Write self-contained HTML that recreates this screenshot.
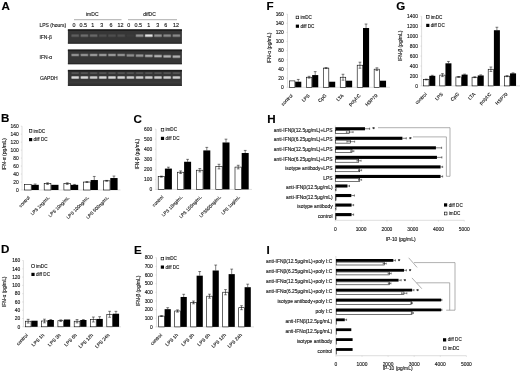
<!DOCTYPE html><html><head><meta charset="utf-8"><style>html,body{margin:0;padding:0;background:#fff;width:520px;height:373px;overflow:hidden}svg{display:block}text{font-family:"Liberation Sans",Arial,sans-serif;stroke:#222;stroke-width:0.14px;paint-order:stroke}</style></head><body>
<svg width="520" height="373" viewBox="0 0 520 373">
<defs><filter id="bl" x="-5%" y="-50%" width="110%" height="200%"><feGaussianBlur stdDeviation="0.55"/></filter><filter id="gb" x="-2%" y="-2%" width="104%" height="104%"><feGaussianBlur stdDeviation="0.5"/></filter><filter id="bl2" x="-5%" y="-50%" width="110%" height="200%"><feGaussianBlur stdDeviation="0.3"/></filter></defs>
<rect width="520" height="373" fill="#fff"/>
<g>
<text x="0" y="0" font-size="10.3" font-weight="bold" fill="#000" transform="translate(1.50 9.60) scale(1.13 1)">A</text>
<text x="86.00" y="16.30" font-size="5.0" text-anchor="start" font-weight="normal" fill="#1a1a1a">imDC</text>
<text x="143.30" y="16.30" font-size="5.0" text-anchor="start" font-weight="normal" fill="#1a1a1a">difDC</text>
<line x1="74.00" y1="19.70" x2="121.50" y2="19.70" stroke="#777" stroke-width="0.6"/>
<line x1="128.00" y1="19.70" x2="177.00" y2="19.70" stroke="#777" stroke-width="0.6"/>
<text x="39.40" y="26.50" font-size="5.0" text-anchor="start" font-weight="normal" fill="#1a1a1a">LPS (hours)</text>
<text x="74.10" y="26.80" font-size="5.4" text-anchor="middle" font-weight="normal" fill="#1a1a1a">0</text>
<text x="83.20" y="26.80" font-size="5.4" text-anchor="middle" font-weight="normal" fill="#1a1a1a">0.5</text>
<text x="92.70" y="26.80" font-size="5.4" text-anchor="middle" font-weight="normal" fill="#1a1a1a">1</text>
<text x="101.70" y="26.80" font-size="5.4" text-anchor="middle" font-weight="normal" fill="#1a1a1a">3</text>
<text x="111.00" y="26.80" font-size="5.4" text-anchor="middle" font-weight="normal" fill="#1a1a1a">6</text>
<text x="120.60" y="26.80" font-size="5.4" text-anchor="middle" font-weight="normal" fill="#1a1a1a">12</text>
<text x="128.70" y="26.80" font-size="5.4" text-anchor="middle" font-weight="normal" fill="#1a1a1a">0</text>
<text x="138.20" y="26.80" font-size="5.4" text-anchor="middle" font-weight="normal" fill="#1a1a1a">0.5</text>
<text x="148.70" y="26.80" font-size="5.4" text-anchor="middle" font-weight="normal" fill="#1a1a1a">1</text>
<text x="157.70" y="26.80" font-size="5.4" text-anchor="middle" font-weight="normal" fill="#1a1a1a">3</text>
<text x="165.80" y="26.80" font-size="5.4" text-anchor="middle" font-weight="normal" fill="#1a1a1a">6</text>
<text x="175.90" y="26.80" font-size="5.4" text-anchor="middle" font-weight="normal" fill="#1a1a1a">12</text>
<text x="39.40" y="39.20" font-size="5.0" text-anchor="start" font-weight="normal" fill="#1a1a1a">IFN-β</text>
<text x="39.60" y="58.80" font-size="5.0" text-anchor="start" font-weight="normal" fill="#1a1a1a">IFN-α</text>
<text x="39.90" y="80.30" font-size="5.0" text-anchor="start" font-weight="normal" fill="#1a1a1a">GAPDH</text>
<rect x="67.90" y="29.40" width="114.00" height="14.20" fill="#363636" stroke="none" stroke-width="0.5"/>
<rect x="67.90" y="29.40" width="114.00" height="1.60" fill="#1e1e1e" stroke="none" stroke-width="0.5"/>
<rect x="67.90" y="42.60" width="114.00" height="1.00" fill="#262626" stroke="none" stroke-width="0.5"/>
<rect x="67.90" y="49.60" width="114.00" height="14.60" fill="#363636" stroke="none" stroke-width="0.5"/>
<rect x="67.90" y="49.60" width="114.00" height="1.60" fill="#1e1e1e" stroke="none" stroke-width="0.5"/>
<rect x="67.90" y="63.20" width="114.00" height="1.00" fill="#262626" stroke="none" stroke-width="0.5"/>
<rect x="67.90" y="69.90" width="114.00" height="15.90" fill="#363636" stroke="none" stroke-width="0.5"/>
<rect x="67.90" y="69.90" width="114.00" height="1.60" fill="#1e1e1e" stroke="none" stroke-width="0.5"/>
<rect x="67.90" y="84.80" width="114.00" height="1.00" fill="#262626" stroke="none" stroke-width="0.5"/>
<rect x="71.10" y="34.10" width="8.20" height="3.10" fill="rgb(72,72,72)" stroke="none" stroke-width="0.5" rx="0.8"/>
<rect x="71.70" y="34.70" width="7.00" height="1.90" fill="rgb(94,94,94)" stroke="none" stroke-width="0.5" rx="0.4"/>
<rect x="71.10" y="53.40" width="8.20" height="3.10" fill="rgb(93,93,93)" stroke="none" stroke-width="0.5" rx="0.8"/>
<rect x="71.70" y="54.00" width="7.00" height="1.90" fill="rgb(142,142,142)" stroke="none" stroke-width="0.5" rx="0.4"/>
<rect x="71.10" y="75.90" width="8.20" height="3.10" fill="rgb(127,127,127)" stroke="none" stroke-width="0.5" rx="0.8"/>
<rect x="71.70" y="76.50" width="7.00" height="1.90" fill="rgb(216,216,216)" stroke="none" stroke-width="0.5" rx="0.4"/>
<rect x="71.20" y="72.10" width="8.00" height="2.00" fill="rgb(72,72,72)" stroke="none" stroke-width="0.5" rx="0.8"/>
<rect x="71.80" y="72.70" width="6.80" height="0.80" fill="rgb(94,94,94)" stroke="none" stroke-width="0.5" rx="0.4"/>
<rect x="80.30" y="34.10" width="8.20" height="3.10" fill="rgb(79,79,79)" stroke="none" stroke-width="0.5" rx="0.8"/>
<rect x="80.90" y="34.70" width="7.00" height="1.90" fill="rgb(109,109,109)" stroke="none" stroke-width="0.5" rx="0.4"/>
<rect x="80.30" y="53.40" width="8.20" height="3.10" fill="rgb(93,93,93)" stroke="none" stroke-width="0.5" rx="0.8"/>
<rect x="80.90" y="54.00" width="7.00" height="1.90" fill="rgb(142,142,142)" stroke="none" stroke-width="0.5" rx="0.4"/>
<rect x="80.30" y="75.90" width="8.20" height="3.10" fill="rgb(127,127,127)" stroke="none" stroke-width="0.5" rx="0.8"/>
<rect x="80.90" y="76.50" width="7.00" height="1.90" fill="rgb(216,216,216)" stroke="none" stroke-width="0.5" rx="0.4"/>
<rect x="80.40" y="72.10" width="8.00" height="2.00" fill="rgb(72,72,72)" stroke="none" stroke-width="0.5" rx="0.8"/>
<rect x="81.00" y="72.70" width="6.80" height="0.80" fill="rgb(94,94,94)" stroke="none" stroke-width="0.5" rx="0.4"/>
<rect x="89.50" y="34.10" width="8.20" height="3.10" fill="rgb(76,76,76)" stroke="none" stroke-width="0.5" rx="0.8"/>
<rect x="90.10" y="34.70" width="7.00" height="1.90" fill="rgb(104,104,104)" stroke="none" stroke-width="0.5" rx="0.4"/>
<rect x="89.50" y="53.40" width="8.20" height="3.10" fill="rgb(97,97,97)" stroke="none" stroke-width="0.5" rx="0.8"/>
<rect x="90.10" y="54.00" width="7.00" height="1.90" fill="rgb(150,150,150)" stroke="none" stroke-width="0.5" rx="0.4"/>
<rect x="89.50" y="75.90" width="8.20" height="3.10" fill="rgb(122,122,122)" stroke="none" stroke-width="0.5" rx="0.8"/>
<rect x="90.10" y="76.50" width="7.00" height="1.90" fill="rgb(206,206,206)" stroke="none" stroke-width="0.5" rx="0.4"/>
<rect x="89.60" y="72.10" width="8.00" height="2.00" fill="rgb(72,72,72)" stroke="none" stroke-width="0.5" rx="0.8"/>
<rect x="90.20" y="72.70" width="6.80" height="0.80" fill="rgb(94,94,94)" stroke="none" stroke-width="0.5" rx="0.4"/>
<rect x="98.70" y="34.10" width="8.20" height="3.10" fill="rgb(64,64,64)" stroke="none" stroke-width="0.5" rx="0.8"/>
<rect x="99.30" y="34.70" width="7.00" height="1.90" fill="rgb(78,78,78)" stroke="none" stroke-width="0.5" rx="0.4"/>
<rect x="98.70" y="53.40" width="8.20" height="3.10" fill="rgb(97,97,97)" stroke="none" stroke-width="0.5" rx="0.8"/>
<rect x="99.30" y="54.00" width="7.00" height="1.90" fill="rgb(150,150,150)" stroke="none" stroke-width="0.5" rx="0.4"/>
<rect x="98.70" y="75.90" width="8.20" height="3.10" fill="rgb(127,127,127)" stroke="none" stroke-width="0.5" rx="0.8"/>
<rect x="99.30" y="76.50" width="7.00" height="1.90" fill="rgb(216,216,216)" stroke="none" stroke-width="0.5" rx="0.4"/>
<rect x="98.80" y="72.10" width="8.00" height="2.00" fill="rgb(72,72,72)" stroke="none" stroke-width="0.5" rx="0.8"/>
<rect x="99.40" y="72.70" width="6.80" height="0.80" fill="rgb(94,94,94)" stroke="none" stroke-width="0.5" rx="0.4"/>
<rect x="107.90" y="34.10" width="8.20" height="3.10" fill="rgb(64,64,64)" stroke="none" stroke-width="0.5" rx="0.8"/>
<rect x="108.50" y="34.70" width="7.00" height="1.90" fill="rgb(78,78,78)" stroke="none" stroke-width="0.5" rx="0.4"/>
<rect x="107.90" y="53.40" width="8.20" height="3.10" fill="rgb(97,97,97)" stroke="none" stroke-width="0.5" rx="0.8"/>
<rect x="108.50" y="54.00" width="7.00" height="1.90" fill="rgb(150,150,150)" stroke="none" stroke-width="0.5" rx="0.4"/>
<rect x="107.90" y="75.90" width="8.20" height="3.10" fill="rgb(127,127,127)" stroke="none" stroke-width="0.5" rx="0.8"/>
<rect x="108.50" y="76.50" width="7.00" height="1.90" fill="rgb(216,216,216)" stroke="none" stroke-width="0.5" rx="0.4"/>
<rect x="108.00" y="72.10" width="8.00" height="2.00" fill="rgb(72,72,72)" stroke="none" stroke-width="0.5" rx="0.8"/>
<rect x="108.60" y="72.70" width="6.80" height="0.80" fill="rgb(94,94,94)" stroke="none" stroke-width="0.5" rx="0.4"/>
<rect x="117.10" y="34.10" width="8.20" height="3.10" fill="rgb(64,64,64)" stroke="none" stroke-width="0.5" rx="0.8"/>
<rect x="117.70" y="34.70" width="7.00" height="1.90" fill="rgb(78,78,78)" stroke="none" stroke-width="0.5" rx="0.4"/>
<rect x="117.10" y="53.40" width="8.20" height="3.10" fill="rgb(93,93,93)" stroke="none" stroke-width="0.5" rx="0.8"/>
<rect x="117.70" y="54.00" width="7.00" height="1.90" fill="rgb(142,142,142)" stroke="none" stroke-width="0.5" rx="0.4"/>
<rect x="117.10" y="75.90" width="8.20" height="3.10" fill="rgb(127,127,127)" stroke="none" stroke-width="0.5" rx="0.8"/>
<rect x="117.70" y="76.50" width="7.00" height="1.90" fill="rgb(216,216,216)" stroke="none" stroke-width="0.5" rx="0.4"/>
<rect x="117.20" y="72.10" width="8.00" height="2.00" fill="rgb(72,72,72)" stroke="none" stroke-width="0.5" rx="0.8"/>
<rect x="117.80" y="72.70" width="6.80" height="0.80" fill="rgb(94,94,94)" stroke="none" stroke-width="0.5" rx="0.4"/>
<rect x="126.30" y="34.10" width="8.20" height="3.10" fill="rgb(56,56,56)" stroke="none" stroke-width="0.5" rx="0.8"/>
<rect x="126.90" y="34.70" width="7.00" height="1.90" fill="rgb(59,59,59)" stroke="none" stroke-width="0.5" rx="0.4"/>
<rect x="126.30" y="53.80" width="8.20" height="3.10" fill="rgb(93,93,93)" stroke="none" stroke-width="0.5" rx="0.8"/>
<rect x="126.90" y="54.40" width="7.00" height="1.90" fill="rgb(142,142,142)" stroke="none" stroke-width="0.5" rx="0.4"/>
<rect x="126.30" y="75.90" width="8.20" height="3.10" fill="rgb(122,122,122)" stroke="none" stroke-width="0.5" rx="0.8"/>
<rect x="126.90" y="76.50" width="7.00" height="1.90" fill="rgb(206,206,206)" stroke="none" stroke-width="0.5" rx="0.4"/>
<rect x="126.40" y="72.10" width="8.00" height="2.00" fill="rgb(72,72,72)" stroke="none" stroke-width="0.5" rx="0.8"/>
<rect x="127.00" y="72.70" width="6.80" height="0.80" fill="rgb(94,94,94)" stroke="none" stroke-width="0.5" rx="0.4"/>
<rect x="135.50" y="34.10" width="8.20" height="3.10" fill="rgb(95,95,95)" stroke="none" stroke-width="0.5" rx="0.8"/>
<rect x="136.10" y="34.70" width="7.00" height="1.90" fill="rgb(147,147,147)" stroke="none" stroke-width="0.5" rx="0.4"/>
<rect x="135.50" y="54.05" width="8.20" height="3.10" fill="rgb(97,97,97)" stroke="none" stroke-width="0.5" rx="0.8"/>
<rect x="136.10" y="54.65" width="7.00" height="1.90" fill="rgb(150,150,150)" stroke="none" stroke-width="0.5" rx="0.4"/>
<rect x="135.50" y="75.90" width="8.20" height="3.10" fill="rgb(122,122,122)" stroke="none" stroke-width="0.5" rx="0.8"/>
<rect x="136.10" y="76.50" width="7.00" height="1.90" fill="rgb(206,206,206)" stroke="none" stroke-width="0.5" rx="0.4"/>
<rect x="135.60" y="72.10" width="8.00" height="2.00" fill="rgb(72,72,72)" stroke="none" stroke-width="0.5" rx="0.8"/>
<rect x="136.20" y="72.70" width="6.80" height="0.80" fill="rgb(94,94,94)" stroke="none" stroke-width="0.5" rx="0.4"/>
<rect x="144.70" y="34.10" width="8.20" height="3.10" fill="rgb(133,133,133)" stroke="none" stroke-width="0.5" rx="0.8"/>
<rect x="145.30" y="34.70" width="7.00" height="1.90" fill="rgb(230,230,230)" stroke="none" stroke-width="0.5" rx="0.4"/>
<rect x="144.70" y="54.30" width="8.20" height="3.10" fill="rgb(105,105,105)" stroke="none" stroke-width="0.5" rx="0.8"/>
<rect x="145.30" y="54.90" width="7.00" height="1.90" fill="rgb(168,168,168)" stroke="none" stroke-width="0.5" rx="0.4"/>
<rect x="144.70" y="75.90" width="8.20" height="3.10" fill="rgb(122,122,122)" stroke="none" stroke-width="0.5" rx="0.8"/>
<rect x="145.30" y="76.50" width="7.00" height="1.90" fill="rgb(206,206,206)" stroke="none" stroke-width="0.5" rx="0.4"/>
<rect x="144.80" y="72.10" width="8.00" height="2.00" fill="rgb(72,72,72)" stroke="none" stroke-width="0.5" rx="0.8"/>
<rect x="145.40" y="72.70" width="6.80" height="0.80" fill="rgb(94,94,94)" stroke="none" stroke-width="0.5" rx="0.4"/>
<rect x="153.90" y="34.10" width="8.20" height="3.10" fill="rgb(95,95,95)" stroke="none" stroke-width="0.5" rx="0.8"/>
<rect x="154.50" y="34.70" width="7.00" height="1.90" fill="rgb(147,147,147)" stroke="none" stroke-width="0.5" rx="0.4"/>
<rect x="153.90" y="54.55" width="8.20" height="3.10" fill="rgb(109,109,109)" stroke="none" stroke-width="0.5" rx="0.8"/>
<rect x="154.50" y="55.15" width="7.00" height="1.90" fill="rgb(177,177,177)" stroke="none" stroke-width="0.5" rx="0.4"/>
<rect x="153.90" y="75.90" width="8.20" height="3.10" fill="rgb(122,122,122)" stroke="none" stroke-width="0.5" rx="0.8"/>
<rect x="154.50" y="76.50" width="7.00" height="1.90" fill="rgb(206,206,206)" stroke="none" stroke-width="0.5" rx="0.4"/>
<rect x="154.00" y="72.10" width="8.00" height="2.00" fill="rgb(72,72,72)" stroke="none" stroke-width="0.5" rx="0.8"/>
<rect x="154.60" y="72.70" width="6.80" height="0.80" fill="rgb(94,94,94)" stroke="none" stroke-width="0.5" rx="0.4"/>
<rect x="163.10" y="34.10" width="8.20" height="3.10" fill="rgb(91,91,91)" stroke="none" stroke-width="0.5" rx="0.8"/>
<rect x="163.70" y="34.70" width="7.00" height="1.90" fill="rgb(137,137,137)" stroke="none" stroke-width="0.5" rx="0.4"/>
<rect x="163.10" y="54.80" width="8.20" height="3.10" fill="rgb(109,109,109)" stroke="none" stroke-width="0.5" rx="0.8"/>
<rect x="163.70" y="55.40" width="7.00" height="1.90" fill="rgb(177,177,177)" stroke="none" stroke-width="0.5" rx="0.4"/>
<rect x="163.10" y="75.90" width="8.20" height="3.10" fill="rgb(122,122,122)" stroke="none" stroke-width="0.5" rx="0.8"/>
<rect x="163.70" y="76.50" width="7.00" height="1.90" fill="rgb(206,206,206)" stroke="none" stroke-width="0.5" rx="0.4"/>
<rect x="163.20" y="72.10" width="8.00" height="2.00" fill="rgb(72,72,72)" stroke="none" stroke-width="0.5" rx="0.8"/>
<rect x="163.80" y="72.70" width="6.80" height="0.80" fill="rgb(94,94,94)" stroke="none" stroke-width="0.5" rx="0.4"/>
<rect x="172.30" y="34.10" width="8.20" height="3.10" fill="rgb(91,91,91)" stroke="none" stroke-width="0.5" rx="0.8"/>
<rect x="172.90" y="34.70" width="7.00" height="1.90" fill="rgb(137,137,137)" stroke="none" stroke-width="0.5" rx="0.4"/>
<rect x="172.30" y="55.05" width="8.20" height="3.10" fill="rgb(109,109,109)" stroke="none" stroke-width="0.5" rx="0.8"/>
<rect x="172.90" y="55.65" width="7.00" height="1.90" fill="rgb(177,177,177)" stroke="none" stroke-width="0.5" rx="0.4"/>
<rect x="172.30" y="75.90" width="8.20" height="3.10" fill="rgb(122,122,122)" stroke="none" stroke-width="0.5" rx="0.8"/>
<rect x="172.90" y="76.50" width="7.00" height="1.90" fill="rgb(206,206,206)" stroke="none" stroke-width="0.5" rx="0.4"/>
<rect x="172.40" y="72.10" width="8.00" height="2.00" fill="rgb(72,72,72)" stroke="none" stroke-width="0.5" rx="0.8"/>
<rect x="173.00" y="72.70" width="6.80" height="0.80" fill="rgb(94,94,94)" stroke="none" stroke-width="0.5" rx="0.4"/>
<rect x="67.90" y="81.80" width="114.00" height="0.60" fill="#444" stroke="none" stroke-width="0.5"/>
<text x="0" y="0" font-size="10.3" font-weight="bold" fill="#000" transform="translate(1.00 122.30) scale(1.13 1)">B</text>
<line x1="22.00" y1="126.20" x2="22.00" y2="190.00" stroke="#bdbdbd" stroke-width="0.5"/>
<line x1="22.00" y1="190.00" x2="120.50" y2="190.00" stroke="#bdbdbd" stroke-width="0.5"/>
<line x1="20.80" y1="190.00" x2="22.00" y2="190.00" stroke="#bdbdbd" stroke-width="0.4"/>
<text x="18.70" y="191.76" font-size="4.9" text-anchor="end" font-weight="normal" fill="#1a1a1a">0</text>
<line x1="20.80" y1="182.03" x2="22.00" y2="182.03" stroke="#bdbdbd" stroke-width="0.4"/>
<text x="18.70" y="183.79" font-size="4.9" text-anchor="end" font-weight="normal" fill="#1a1a1a">20</text>
<line x1="20.80" y1="174.05" x2="22.00" y2="174.05" stroke="#bdbdbd" stroke-width="0.4"/>
<text x="18.70" y="175.81" font-size="4.9" text-anchor="end" font-weight="normal" fill="#1a1a1a">40</text>
<line x1="20.80" y1="166.07" x2="22.00" y2="166.07" stroke="#bdbdbd" stroke-width="0.4"/>
<text x="18.70" y="167.84" font-size="4.9" text-anchor="end" font-weight="normal" fill="#1a1a1a">60</text>
<line x1="20.80" y1="158.10" x2="22.00" y2="158.10" stroke="#bdbdbd" stroke-width="0.4"/>
<text x="18.70" y="159.86" font-size="4.9" text-anchor="end" font-weight="normal" fill="#1a1a1a">80</text>
<line x1="20.80" y1="150.12" x2="22.00" y2="150.12" stroke="#bdbdbd" stroke-width="0.4"/>
<text x="18.70" y="151.89" font-size="4.9" text-anchor="end" font-weight="normal" fill="#1a1a1a">100</text>
<line x1="20.80" y1="142.15" x2="22.00" y2="142.15" stroke="#bdbdbd" stroke-width="0.4"/>
<text x="18.70" y="143.91" font-size="4.9" text-anchor="end" font-weight="normal" fill="#1a1a1a">120</text>
<line x1="20.80" y1="134.18" x2="22.00" y2="134.18" stroke="#bdbdbd" stroke-width="0.4"/>
<text x="18.70" y="135.94" font-size="4.9" text-anchor="end" font-weight="normal" fill="#1a1a1a">140</text>
<line x1="20.80" y1="126.20" x2="22.00" y2="126.20" stroke="#bdbdbd" stroke-width="0.4"/>
<text x="18.70" y="127.96" font-size="4.9" text-anchor="end" font-weight="normal" fill="#1a1a1a">160</text>
<text x="5.60" y="154.30" font-size="5.15" text-anchor="middle" font-weight="normal" fill="#1a1a1a" transform="rotate(-90 5.60 154.30)">IFN-α (pg/mL)</text>
<rect x="24.50" y="184.42" width="6.70" height="5.58" fill="#fff" stroke="#000" stroke-width="0.6"/>
<rect x="31.50" y="184.82" width="7.30" height="5.18" fill="#000" stroke="none" stroke-width="0.5"/>
<line x1="35.15" y1="184.02" x2="35.15" y2="184.82" stroke="#000" stroke-width="0.5"/>
<line x1="33.75" y1="184.02" x2="36.55" y2="184.02" stroke="#000" stroke-width="0.5"/>
<text x="30.20" y="198.10" font-size="4.5" text-anchor="end" font-weight="normal" fill="#1a1a1a" transform="rotate(-45 30.20 198.10)">control</text>
<rect x="44.20" y="183.62" width="6.70" height="6.38" fill="#fff" stroke="#000" stroke-width="0.6"/>
<rect x="51.20" y="184.82" width="7.30" height="5.18" fill="#000" stroke="none" stroke-width="0.5"/>
<line x1="47.55" y1="182.82" x2="47.55" y2="184.42" stroke="#000" stroke-width="0.5"/>
<line x1="46.15" y1="182.82" x2="48.95" y2="182.82" stroke="#000" stroke-width="0.5"/>
<line x1="46.15" y1="184.42" x2="48.95" y2="184.42" stroke="#000" stroke-width="0.5"/>
<text x="49.90" y="198.10" font-size="4.5" text-anchor="end" font-weight="normal" fill="#1a1a1a" transform="rotate(-45 49.90 198.10)">LPS 1ng/mL</text>
<rect x="63.90" y="183.62" width="6.70" height="6.38" fill="#fff" stroke="#000" stroke-width="0.6"/>
<rect x="70.90" y="184.82" width="7.30" height="5.18" fill="#000" stroke="none" stroke-width="0.5"/>
<line x1="67.25" y1="182.82" x2="67.25" y2="184.42" stroke="#000" stroke-width="0.5"/>
<line x1="65.85" y1="182.82" x2="68.65" y2="182.82" stroke="#000" stroke-width="0.5"/>
<line x1="65.85" y1="184.42" x2="68.65" y2="184.42" stroke="#000" stroke-width="0.5"/>
<line x1="74.55" y1="184.42" x2="74.55" y2="184.82" stroke="#000" stroke-width="0.5"/>
<line x1="73.15" y1="184.42" x2="75.95" y2="184.42" stroke="#000" stroke-width="0.5"/>
<text x="69.60" y="198.10" font-size="4.5" text-anchor="end" font-weight="normal" fill="#1a1a1a" transform="rotate(-45 69.60 198.10)">LPS 10ng/mL</text>
<rect x="83.60" y="182.03" width="6.70" height="7.97" fill="#fff" stroke="#000" stroke-width="0.6"/>
<rect x="90.60" y="180.03" width="7.30" height="9.97" fill="#000" stroke="none" stroke-width="0.5"/>
<line x1="86.95" y1="181.63" x2="86.95" y2="182.42" stroke="#000" stroke-width="0.5"/>
<line x1="85.55" y1="181.63" x2="88.35" y2="181.63" stroke="#000" stroke-width="0.5"/>
<line x1="85.55" y1="182.42" x2="88.35" y2="182.42" stroke="#000" stroke-width="0.5"/>
<line x1="94.25" y1="176.44" x2="94.25" y2="180.03" stroke="#000" stroke-width="0.5"/>
<line x1="92.85" y1="176.44" x2="95.65" y2="176.44" stroke="#000" stroke-width="0.5"/>
<text x="89.30" y="198.10" font-size="4.5" text-anchor="end" font-weight="normal" fill="#1a1a1a" transform="rotate(-45 89.30 198.10)">LPS 100ng/mL</text>
<rect x="103.30" y="180.83" width="6.70" height="9.17" fill="#fff" stroke="#000" stroke-width="0.6"/>
<rect x="110.30" y="178.04" width="7.30" height="11.96" fill="#000" stroke="none" stroke-width="0.5"/>
<line x1="106.65" y1="180.43" x2="106.65" y2="181.23" stroke="#000" stroke-width="0.5"/>
<line x1="105.25" y1="180.43" x2="108.05" y2="180.43" stroke="#000" stroke-width="0.5"/>
<line x1="105.25" y1="181.23" x2="108.05" y2="181.23" stroke="#000" stroke-width="0.5"/>
<line x1="113.95" y1="176.04" x2="113.95" y2="178.04" stroke="#000" stroke-width="0.5"/>
<line x1="112.55" y1="176.04" x2="115.35" y2="176.04" stroke="#000" stroke-width="0.5"/>
<text x="109.00" y="198.10" font-size="4.5" text-anchor="end" font-weight="normal" fill="#1a1a1a" transform="rotate(-45 109.00 198.10)">LPS 500ng/mL</text>
<rect x="29.30" y="129.60" width="2.60" height="2.60" fill="#fff" stroke="#000" stroke-width="0.6"/>
<text x="33.60" y="132.50" font-size="4.6" text-anchor="start" font-weight="normal" fill="#1a1a1a">imDC</text>
<rect x="29.00" y="138.00" width="3.20" height="3.20" fill="#000" stroke="none" stroke-width="0.5"/>
<text x="33.60" y="141.20" font-size="4.6" text-anchor="start" font-weight="normal" fill="#1a1a1a">diff DC</text>
<text x="0" y="0" font-size="10.3" font-weight="bold" fill="#000" transform="translate(133.60 122.60) scale(1.13 1)">C</text>
<line x1="156.00" y1="129.10" x2="156.00" y2="189.40" stroke="#bdbdbd" stroke-width="0.5"/>
<line x1="156.00" y1="189.40" x2="252.00" y2="189.40" stroke="#bdbdbd" stroke-width="0.5"/>
<line x1="154.80" y1="189.40" x2="156.00" y2="189.40" stroke="#bdbdbd" stroke-width="0.4"/>
<text x="152.20" y="191.16" font-size="4.9" text-anchor="end" font-weight="normal" fill="#1a1a1a">0</text>
<line x1="154.80" y1="179.35" x2="156.00" y2="179.35" stroke="#bdbdbd" stroke-width="0.4"/>
<text x="152.20" y="181.11" font-size="4.9" text-anchor="end" font-weight="normal" fill="#1a1a1a">100</text>
<line x1="154.80" y1="169.30" x2="156.00" y2="169.30" stroke="#bdbdbd" stroke-width="0.4"/>
<text x="152.20" y="171.06" font-size="4.9" text-anchor="end" font-weight="normal" fill="#1a1a1a">200</text>
<line x1="154.80" y1="159.25" x2="156.00" y2="159.25" stroke="#bdbdbd" stroke-width="0.4"/>
<text x="152.20" y="161.01" font-size="4.9" text-anchor="end" font-weight="normal" fill="#1a1a1a">300</text>
<line x1="154.80" y1="149.20" x2="156.00" y2="149.20" stroke="#bdbdbd" stroke-width="0.4"/>
<text x="152.20" y="150.96" font-size="4.9" text-anchor="end" font-weight="normal" fill="#1a1a1a">400</text>
<line x1="154.80" y1="139.15" x2="156.00" y2="139.15" stroke="#bdbdbd" stroke-width="0.4"/>
<text x="152.20" y="140.91" font-size="4.9" text-anchor="end" font-weight="normal" fill="#1a1a1a">500</text>
<line x1="154.80" y1="129.10" x2="156.00" y2="129.10" stroke="#bdbdbd" stroke-width="0.4"/>
<text x="152.20" y="130.86" font-size="4.9" text-anchor="end" font-weight="normal" fill="#1a1a1a">600</text>
<text x="139.10" y="154.20" font-size="4.9" text-anchor="middle" font-weight="normal" fill="#1a1a1a" transform="rotate(-90 139.10 154.20)">IFN-β (pg/mL)</text>
<rect x="158.20" y="176.64" width="6.40" height="12.76" fill="#fff" stroke="#000" stroke-width="0.6"/>
<rect x="164.90" y="168.60" width="7.00" height="20.80" fill="#000" stroke="none" stroke-width="0.5"/>
<line x1="161.40" y1="176.13" x2="161.40" y2="177.14" stroke="#000" stroke-width="0.5"/>
<line x1="160.00" y1="176.13" x2="162.80" y2="176.13" stroke="#000" stroke-width="0.5"/>
<line x1="160.00" y1="177.14" x2="162.80" y2="177.14" stroke="#000" stroke-width="0.5"/>
<line x1="168.40" y1="167.19" x2="168.40" y2="168.60" stroke="#000" stroke-width="0.5"/>
<line x1="167.00" y1="167.19" x2="169.80" y2="167.19" stroke="#000" stroke-width="0.5"/>
<text x="163.60" y="197.50" font-size="4.5" text-anchor="end" font-weight="normal" fill="#1a1a1a" transform="rotate(-45 163.60 197.50)">control</text>
<rect x="177.40" y="172.21" width="6.40" height="17.19" fill="#fff" stroke="#000" stroke-width="0.6"/>
<rect x="184.10" y="161.76" width="7.00" height="27.64" fill="#000" stroke="none" stroke-width="0.5"/>
<line x1="180.60" y1="170.91" x2="180.60" y2="173.52" stroke="#000" stroke-width="0.5"/>
<line x1="179.20" y1="170.91" x2="182.00" y2="170.91" stroke="#000" stroke-width="0.5"/>
<line x1="179.20" y1="173.52" x2="182.00" y2="173.52" stroke="#000" stroke-width="0.5"/>
<line x1="187.60" y1="159.35" x2="187.60" y2="161.76" stroke="#000" stroke-width="0.5"/>
<line x1="186.20" y1="159.35" x2="189.00" y2="159.35" stroke="#000" stroke-width="0.5"/>
<text x="182.80" y="197.50" font-size="4.5" text-anchor="end" font-weight="normal" fill="#1a1a1a" transform="rotate(-45 182.80 197.50)">LPS 10ng/mL</text>
<rect x="196.60" y="170.20" width="6.40" height="19.20" fill="#fff" stroke="#000" stroke-width="0.6"/>
<rect x="203.30" y="150.41" width="7.00" height="38.99" fill="#000" stroke="none" stroke-width="0.5"/>
<line x1="199.80" y1="168.50" x2="199.80" y2="171.91" stroke="#000" stroke-width="0.5"/>
<line x1="198.40" y1="168.50" x2="201.20" y2="168.50" stroke="#000" stroke-width="0.5"/>
<line x1="198.40" y1="171.91" x2="201.20" y2="171.91" stroke="#000" stroke-width="0.5"/>
<line x1="206.80" y1="147.39" x2="206.80" y2="150.41" stroke="#000" stroke-width="0.5"/>
<line x1="205.40" y1="147.39" x2="208.20" y2="147.39" stroke="#000" stroke-width="0.5"/>
<text x="202.00" y="197.50" font-size="4.5" text-anchor="end" font-weight="normal" fill="#1a1a1a" transform="rotate(-45 202.00 197.50)">LPS 100ng/mL</text>
<rect x="215.80" y="166.59" width="6.40" height="22.81" fill="#fff" stroke="#000" stroke-width="0.6"/>
<rect x="222.50" y="142.47" width="7.00" height="46.93" fill="#000" stroke="none" stroke-width="0.5"/>
<line x1="219.00" y1="164.28" x2="219.00" y2="168.90" stroke="#000" stroke-width="0.5"/>
<line x1="217.60" y1="164.28" x2="220.40" y2="164.28" stroke="#000" stroke-width="0.5"/>
<line x1="217.60" y1="168.90" x2="220.40" y2="168.90" stroke="#000" stroke-width="0.5"/>
<line x1="226.00" y1="139.15" x2="226.00" y2="142.47" stroke="#000" stroke-width="0.5"/>
<line x1="224.60" y1="139.15" x2="227.40" y2="139.15" stroke="#000" stroke-width="0.5"/>
<text x="221.20" y="197.50" font-size="4.5" text-anchor="end" font-weight="normal" fill="#1a1a1a" transform="rotate(-45 221.20 197.50)">LPS500ng/mL</text>
<rect x="235.00" y="167.09" width="6.40" height="22.31" fill="#fff" stroke="#000" stroke-width="0.6"/>
<rect x="241.70" y="153.02" width="7.00" height="36.38" fill="#000" stroke="none" stroke-width="0.5"/>
<line x1="238.20" y1="165.28" x2="238.20" y2="168.90" stroke="#000" stroke-width="0.5"/>
<line x1="236.80" y1="165.28" x2="239.60" y2="165.28" stroke="#000" stroke-width="0.5"/>
<line x1="236.80" y1="168.90" x2="239.60" y2="168.90" stroke="#000" stroke-width="0.5"/>
<line x1="245.20" y1="150.41" x2="245.20" y2="153.02" stroke="#000" stroke-width="0.5"/>
<line x1="243.80" y1="150.41" x2="246.60" y2="150.41" stroke="#000" stroke-width="0.5"/>
<text x="240.40" y="197.50" font-size="4.5" text-anchor="end" font-weight="normal" fill="#1a1a1a" transform="rotate(-45 240.40 197.50)">LPS 1ug/mL</text>
<rect x="161.20" y="128.50" width="2.60" height="2.60" fill="#fff" stroke="#000" stroke-width="0.6"/>
<text x="165.50" y="131.40" font-size="4.6" text-anchor="start" font-weight="normal" fill="#1a1a1a">imDC</text>
<rect x="160.90" y="136.80" width="3.20" height="3.20" fill="#000" stroke="none" stroke-width="0.5"/>
<text x="165.50" y="140.00" font-size="4.6" text-anchor="start" font-weight="normal" fill="#1a1a1a">diff DC</text>
<text x="0" y="0" font-size="10.3" font-weight="bold" fill="#000" transform="translate(1.00 253.30) scale(1.13 1)">D</text>
<line x1="23.40" y1="260.50" x2="23.40" y2="326.80" stroke="#bdbdbd" stroke-width="0.5"/>
<line x1="23.40" y1="326.80" x2="121.00" y2="326.80" stroke="#bdbdbd" stroke-width="0.5"/>
<line x1="22.20" y1="326.80" x2="23.40" y2="326.80" stroke="#bdbdbd" stroke-width="0.4"/>
<text x="20.30" y="328.56" font-size="4.9" text-anchor="end" font-weight="normal" fill="#1a1a1a">0</text>
<line x1="22.20" y1="318.51" x2="23.40" y2="318.51" stroke="#bdbdbd" stroke-width="0.4"/>
<text x="20.30" y="320.28" font-size="4.9" text-anchor="end" font-weight="normal" fill="#1a1a1a">20</text>
<line x1="22.20" y1="310.23" x2="23.40" y2="310.23" stroke="#bdbdbd" stroke-width="0.4"/>
<text x="20.30" y="311.99" font-size="4.9" text-anchor="end" font-weight="normal" fill="#1a1a1a">40</text>
<line x1="22.20" y1="301.94" x2="23.40" y2="301.94" stroke="#bdbdbd" stroke-width="0.4"/>
<text x="20.30" y="303.70" font-size="4.9" text-anchor="end" font-weight="normal" fill="#1a1a1a">60</text>
<line x1="22.20" y1="293.65" x2="23.40" y2="293.65" stroke="#bdbdbd" stroke-width="0.4"/>
<text x="20.30" y="295.41" font-size="4.9" text-anchor="end" font-weight="normal" fill="#1a1a1a">80</text>
<line x1="22.20" y1="285.36" x2="23.40" y2="285.36" stroke="#bdbdbd" stroke-width="0.4"/>
<text x="20.30" y="287.13" font-size="4.9" text-anchor="end" font-weight="normal" fill="#1a1a1a">100</text>
<line x1="22.20" y1="277.07" x2="23.40" y2="277.07" stroke="#bdbdbd" stroke-width="0.4"/>
<text x="20.30" y="278.84" font-size="4.9" text-anchor="end" font-weight="normal" fill="#1a1a1a">120</text>
<line x1="22.20" y1="268.79" x2="23.40" y2="268.79" stroke="#bdbdbd" stroke-width="0.4"/>
<text x="20.30" y="270.55" font-size="4.9" text-anchor="end" font-weight="normal" fill="#1a1a1a">140</text>
<line x1="22.20" y1="260.50" x2="23.40" y2="260.50" stroke="#bdbdbd" stroke-width="0.4"/>
<text x="20.30" y="262.26" font-size="4.9" text-anchor="end" font-weight="normal" fill="#1a1a1a">160</text>
<text x="6.20" y="291.80" font-size="4.9" text-anchor="middle" font-weight="normal" fill="#1a1a1a" transform="rotate(-90 6.20 291.80)">IFN-α (pg/mL)</text>
<rect x="25.30" y="321.21" width="5.70" height="5.59" fill="#fff" stroke="#000" stroke-width="0.6"/>
<rect x="31.30" y="320.71" width="6.30" height="6.09" fill="#000" stroke="none" stroke-width="0.5"/>
<line x1="28.15" y1="319.34" x2="28.15" y2="323.07" stroke="#000" stroke-width="0.5"/>
<line x1="26.75" y1="319.34" x2="29.55" y2="319.34" stroke="#000" stroke-width="0.5"/>
<line x1="26.75" y1="323.07" x2="29.55" y2="323.07" stroke="#000" stroke-width="0.5"/>
<text x="28.30" y="335.60" font-size="4.75" text-anchor="end" font-weight="normal" fill="#1a1a1a" transform="rotate(-45 28.30 335.60)">control</text>
<rect x="41.60" y="321.00" width="5.70" height="5.80" fill="#fff" stroke="#000" stroke-width="0.6"/>
<rect x="47.60" y="320.00" width="6.30" height="6.80" fill="#000" stroke="none" stroke-width="0.5"/>
<line x1="44.45" y1="319.18" x2="44.45" y2="322.82" stroke="#000" stroke-width="0.5"/>
<line x1="43.05" y1="319.18" x2="45.85" y2="319.18" stroke="#000" stroke-width="0.5"/>
<line x1="43.05" y1="322.82" x2="45.85" y2="322.82" stroke="#000" stroke-width="0.5"/>
<line x1="50.75" y1="319.59" x2="50.75" y2="320.00" stroke="#000" stroke-width="0.5"/>
<line x1="49.35" y1="319.59" x2="52.15" y2="319.59" stroke="#000" stroke-width="0.5"/>
<text x="44.60" y="335.60" font-size="4.75" text-anchor="end" font-weight="normal" fill="#1a1a1a" transform="rotate(-45 44.60 335.60)">LPS 1h</text>
<rect x="57.90" y="320.71" width="5.70" height="6.09" fill="#fff" stroke="#000" stroke-width="0.6"/>
<rect x="63.90" y="319.51" width="6.30" height="7.29" fill="#000" stroke="none" stroke-width="0.5"/>
<line x1="60.75" y1="319.88" x2="60.75" y2="321.54" stroke="#000" stroke-width="0.5"/>
<line x1="59.35" y1="319.88" x2="62.15" y2="319.88" stroke="#000" stroke-width="0.5"/>
<line x1="59.35" y1="321.54" x2="62.15" y2="321.54" stroke="#000" stroke-width="0.5"/>
<text x="60.90" y="335.60" font-size="4.75" text-anchor="end" font-weight="normal" fill="#1a1a1a" transform="rotate(-45 60.90 335.60)">LPS 3h</text>
<rect x="74.20" y="321.21" width="5.70" height="5.59" fill="#fff" stroke="#000" stroke-width="0.6"/>
<rect x="80.20" y="320.00" width="6.30" height="6.80" fill="#000" stroke="none" stroke-width="0.5"/>
<line x1="77.05" y1="319.55" x2="77.05" y2="322.86" stroke="#000" stroke-width="0.5"/>
<line x1="75.65" y1="319.55" x2="78.45" y2="319.55" stroke="#000" stroke-width="0.5"/>
<line x1="75.65" y1="322.86" x2="78.45" y2="322.86" stroke="#000" stroke-width="0.5"/>
<line x1="83.35" y1="319.59" x2="83.35" y2="320.00" stroke="#000" stroke-width="0.5"/>
<line x1="81.95" y1="319.59" x2="84.75" y2="319.59" stroke="#000" stroke-width="0.5"/>
<text x="77.20" y="335.60" font-size="4.75" text-anchor="end" font-weight="normal" fill="#1a1a1a" transform="rotate(-45 77.20 335.60)">LPS 6h</text>
<rect x="90.50" y="319.51" width="5.70" height="7.29" fill="#fff" stroke="#000" stroke-width="0.6"/>
<rect x="96.50" y="318.93" width="6.30" height="7.87" fill="#000" stroke="none" stroke-width="0.5"/>
<line x1="93.35" y1="317.02" x2="93.35" y2="321.99" stroke="#000" stroke-width="0.5"/>
<line x1="91.95" y1="317.02" x2="94.75" y2="317.02" stroke="#000" stroke-width="0.5"/>
<line x1="91.95" y1="321.99" x2="94.75" y2="321.99" stroke="#000" stroke-width="0.5"/>
<line x1="99.65" y1="316.69" x2="99.65" y2="318.93" stroke="#000" stroke-width="0.5"/>
<line x1="98.25" y1="316.69" x2="101.05" y2="316.69" stroke="#000" stroke-width="0.5"/>
<text x="93.50" y="335.60" font-size="4.75" text-anchor="end" font-weight="normal" fill="#1a1a1a" transform="rotate(-45 93.50 335.60)">LPS 12h</text>
<rect x="106.80" y="314.29" width="5.70" height="12.51" fill="#fff" stroke="#000" stroke-width="0.6"/>
<rect x="112.80" y="313.71" width="6.30" height="13.09" fill="#000" stroke="none" stroke-width="0.5"/>
<line x1="109.65" y1="311.30" x2="109.65" y2="317.27" stroke="#000" stroke-width="0.5"/>
<line x1="108.25" y1="311.30" x2="111.05" y2="311.30" stroke="#000" stroke-width="0.5"/>
<line x1="108.25" y1="317.27" x2="111.05" y2="317.27" stroke="#000" stroke-width="0.5"/>
<line x1="115.95" y1="311.30" x2="115.95" y2="313.71" stroke="#000" stroke-width="0.5"/>
<line x1="114.55" y1="311.30" x2="117.35" y2="311.30" stroke="#000" stroke-width="0.5"/>
<text x="109.80" y="335.60" font-size="4.75" text-anchor="end" font-weight="normal" fill="#1a1a1a" transform="rotate(-45 109.80 335.60)">LPS 24h</text>
<rect x="31.70" y="264.70" width="2.60" height="2.60" fill="#fff" stroke="#000" stroke-width="0.6"/>
<text x="36.00" y="267.60" font-size="4.6" text-anchor="start" font-weight="normal" fill="#1a1a1a">imDC</text>
<rect x="31.40" y="272.80" width="3.20" height="3.20" fill="#000" stroke="none" stroke-width="0.5"/>
<text x="36.00" y="276.00" font-size="4.6" text-anchor="start" font-weight="normal" fill="#1a1a1a">diff DC</text>
<text x="0" y="0" font-size="10.3" font-weight="bold" fill="#000" transform="translate(134.00 253.50) scale(1.13 1)">E</text>
<line x1="156.50" y1="257.70" x2="156.50" y2="326.90" stroke="#bdbdbd" stroke-width="0.5"/>
<line x1="156.50" y1="326.90" x2="254.00" y2="326.90" stroke="#bdbdbd" stroke-width="0.5"/>
<line x1="155.30" y1="326.90" x2="156.50" y2="326.90" stroke="#bdbdbd" stroke-width="0.4"/>
<text x="152.80" y="328.66" font-size="4.9" text-anchor="end" font-weight="normal" fill="#1a1a1a">0</text>
<line x1="155.30" y1="318.25" x2="156.50" y2="318.25" stroke="#bdbdbd" stroke-width="0.4"/>
<text x="152.80" y="320.01" font-size="4.9" text-anchor="end" font-weight="normal" fill="#1a1a1a">100</text>
<line x1="155.30" y1="309.60" x2="156.50" y2="309.60" stroke="#bdbdbd" stroke-width="0.4"/>
<text x="152.80" y="311.36" font-size="4.9" text-anchor="end" font-weight="normal" fill="#1a1a1a">200</text>
<line x1="155.30" y1="300.95" x2="156.50" y2="300.95" stroke="#bdbdbd" stroke-width="0.4"/>
<text x="152.80" y="302.71" font-size="4.9" text-anchor="end" font-weight="normal" fill="#1a1a1a">300</text>
<line x1="155.30" y1="292.30" x2="156.50" y2="292.30" stroke="#bdbdbd" stroke-width="0.4"/>
<text x="152.80" y="294.06" font-size="4.9" text-anchor="end" font-weight="normal" fill="#1a1a1a">400</text>
<line x1="155.30" y1="283.65" x2="156.50" y2="283.65" stroke="#bdbdbd" stroke-width="0.4"/>
<text x="152.80" y="285.41" font-size="4.9" text-anchor="end" font-weight="normal" fill="#1a1a1a">500</text>
<line x1="155.30" y1="275.00" x2="156.50" y2="275.00" stroke="#bdbdbd" stroke-width="0.4"/>
<text x="152.80" y="276.76" font-size="4.9" text-anchor="end" font-weight="normal" fill="#1a1a1a">600</text>
<line x1="155.30" y1="266.35" x2="156.50" y2="266.35" stroke="#bdbdbd" stroke-width="0.4"/>
<text x="152.80" y="268.11" font-size="4.9" text-anchor="end" font-weight="normal" fill="#1a1a1a">700</text>
<line x1="155.30" y1="257.70" x2="156.50" y2="257.70" stroke="#bdbdbd" stroke-width="0.4"/>
<text x="152.80" y="259.46" font-size="4.9" text-anchor="end" font-weight="normal" fill="#1a1a1a">800</text>
<text x="140.10" y="290.80" font-size="4.9" text-anchor="middle" font-weight="normal" fill="#1a1a1a" transform="rotate(-90 140.10 290.80)">IFN-β (pg/mL)</text>
<rect x="158.70" y="316.09" width="5.60" height="10.81" fill="#fff" stroke="#000" stroke-width="0.6"/>
<rect x="164.60" y="309.17" width="6.20" height="17.73" fill="#000" stroke="none" stroke-width="0.5"/>
<line x1="161.50" y1="315.65" x2="161.50" y2="316.52" stroke="#000" stroke-width="0.5"/>
<line x1="160.10" y1="315.65" x2="162.90" y2="315.65" stroke="#000" stroke-width="0.5"/>
<line x1="160.10" y1="316.52" x2="162.90" y2="316.52" stroke="#000" stroke-width="0.5"/>
<line x1="167.70" y1="307.70" x2="167.70" y2="309.17" stroke="#000" stroke-width="0.5"/>
<line x1="166.30" y1="307.70" x2="169.10" y2="307.70" stroke="#000" stroke-width="0.5"/>
<text x="162.40" y="335.40" font-size="4.75" text-anchor="end" font-weight="normal" fill="#1a1a1a" transform="rotate(-45 162.40 335.40)">control</text>
<rect x="174.70" y="310.98" width="5.60" height="15.92" fill="#fff" stroke="#000" stroke-width="0.6"/>
<rect x="180.60" y="296.97" width="6.20" height="29.93" fill="#000" stroke="none" stroke-width="0.5"/>
<line x1="177.50" y1="309.86" x2="177.50" y2="312.11" stroke="#000" stroke-width="0.5"/>
<line x1="176.10" y1="309.86" x2="178.90" y2="309.86" stroke="#000" stroke-width="0.5"/>
<line x1="176.10" y1="312.11" x2="178.90" y2="312.11" stroke="#000" stroke-width="0.5"/>
<line x1="183.70" y1="294.29" x2="183.70" y2="296.97" stroke="#000" stroke-width="0.5"/>
<line x1="182.30" y1="294.29" x2="185.10" y2="294.29" stroke="#000" stroke-width="0.5"/>
<text x="178.40" y="335.40" font-size="4.75" text-anchor="end" font-weight="normal" fill="#1a1a1a" transform="rotate(-45 178.40 335.40)">LPS 1h</text>
<rect x="190.70" y="302.42" width="5.60" height="24.48" fill="#fff" stroke="#000" stroke-width="0.6"/>
<rect x="196.60" y="275.69" width="6.20" height="51.21" fill="#000" stroke="none" stroke-width="0.5"/>
<line x1="193.50" y1="301.04" x2="193.50" y2="303.80" stroke="#000" stroke-width="0.5"/>
<line x1="192.10" y1="301.04" x2="194.90" y2="301.04" stroke="#000" stroke-width="0.5"/>
<line x1="192.10" y1="303.80" x2="194.90" y2="303.80" stroke="#000" stroke-width="0.5"/>
<line x1="199.70" y1="271.54" x2="199.70" y2="275.69" stroke="#000" stroke-width="0.5"/>
<line x1="198.30" y1="271.54" x2="201.10" y2="271.54" stroke="#000" stroke-width="0.5"/>
<text x="194.40" y="335.40" font-size="4.75" text-anchor="end" font-weight="normal" fill="#1a1a1a" transform="rotate(-45 194.40 335.40)">LPS 3h</text>
<rect x="206.70" y="296.19" width="5.60" height="30.71" fill="#fff" stroke="#000" stroke-width="0.6"/>
<rect x="212.60" y="270.50" width="6.20" height="56.40" fill="#000" stroke="none" stroke-width="0.5"/>
<line x1="209.50" y1="294.20" x2="209.50" y2="298.18" stroke="#000" stroke-width="0.5"/>
<line x1="208.10" y1="294.20" x2="210.90" y2="294.20" stroke="#000" stroke-width="0.5"/>
<line x1="208.10" y1="298.18" x2="210.90" y2="298.18" stroke="#000" stroke-width="0.5"/>
<line x1="215.70" y1="265.05" x2="215.70" y2="270.50" stroke="#000" stroke-width="0.5"/>
<line x1="214.30" y1="265.05" x2="217.10" y2="265.05" stroke="#000" stroke-width="0.5"/>
<text x="210.40" y="335.40" font-size="4.75" text-anchor="end" font-weight="normal" fill="#1a1a1a" transform="rotate(-45 210.40 335.40)">LPS 6h</text>
<rect x="222.70" y="292.21" width="5.60" height="34.69" fill="#fff" stroke="#000" stroke-width="0.6"/>
<rect x="228.60" y="274.13" width="6.20" height="52.76" fill="#000" stroke="none" stroke-width="0.5"/>
<line x1="225.50" y1="289.62" x2="225.50" y2="294.81" stroke="#000" stroke-width="0.5"/>
<line x1="224.10" y1="289.62" x2="226.90" y2="289.62" stroke="#000" stroke-width="0.5"/>
<line x1="224.10" y1="294.81" x2="226.90" y2="294.81" stroke="#000" stroke-width="0.5"/>
<line x1="231.70" y1="269.12" x2="231.70" y2="274.13" stroke="#000" stroke-width="0.5"/>
<line x1="230.30" y1="269.12" x2="233.10" y2="269.12" stroke="#000" stroke-width="0.5"/>
<text x="226.40" y="335.40" font-size="4.75" text-anchor="end" font-weight="normal" fill="#1a1a1a" transform="rotate(-45 226.40 335.40)">LPS 12h</text>
<rect x="238.70" y="307.70" width="5.60" height="19.20" fill="#fff" stroke="#000" stroke-width="0.6"/>
<rect x="244.60" y="287.20" width="6.20" height="39.70" fill="#000" stroke="none" stroke-width="0.5"/>
<line x1="241.50" y1="305.71" x2="241.50" y2="309.69" stroke="#000" stroke-width="0.5"/>
<line x1="240.10" y1="305.71" x2="242.90" y2="305.71" stroke="#000" stroke-width="0.5"/>
<line x1="240.10" y1="309.69" x2="242.90" y2="309.69" stroke="#000" stroke-width="0.5"/>
<line x1="247.70" y1="284.17" x2="247.70" y2="287.20" stroke="#000" stroke-width="0.5"/>
<line x1="246.30" y1="284.17" x2="249.10" y2="284.17" stroke="#000" stroke-width="0.5"/>
<text x="242.40" y="335.40" font-size="4.75" text-anchor="end" font-weight="normal" fill="#1a1a1a" transform="rotate(-45 242.40 335.40)">LPS 24h</text>
<rect x="161.10" y="257.30" width="2.60" height="2.60" fill="#fff" stroke="#000" stroke-width="0.6"/>
<text x="165.40" y="260.20" font-size="4.6" text-anchor="start" font-weight="normal" fill="#1a1a1a">imDC</text>
<rect x="160.80" y="265.50" width="3.20" height="3.20" fill="#000" stroke="none" stroke-width="0.5"/>
<text x="165.40" y="268.70" font-size="4.6" text-anchor="start" font-weight="normal" fill="#1a1a1a">diff DC</text>
<text x="0" y="0" font-size="10.3" font-weight="bold" fill="#000" transform="translate(266.40 10.00) scale(1.13 1)">F</text>
<line x1="287.50" y1="14.10" x2="287.50" y2="87.30" stroke="#bdbdbd" stroke-width="0.5"/>
<line x1="287.50" y1="87.30" x2="390.00" y2="87.30" stroke="#bdbdbd" stroke-width="0.5"/>
<line x1="286.30" y1="87.30" x2="287.50" y2="87.30" stroke="#bdbdbd" stroke-width="0.4"/>
<text x="283.80" y="89.06" font-size="4.9" text-anchor="end" font-weight="normal" fill="#1a1a1a">0</text>
<line x1="286.30" y1="78.15" x2="287.50" y2="78.15" stroke="#bdbdbd" stroke-width="0.4"/>
<text x="283.80" y="79.91" font-size="4.9" text-anchor="end" font-weight="normal" fill="#1a1a1a">20</text>
<line x1="286.30" y1="69.00" x2="287.50" y2="69.00" stroke="#bdbdbd" stroke-width="0.4"/>
<text x="283.80" y="70.76" font-size="4.9" text-anchor="end" font-weight="normal" fill="#1a1a1a">40</text>
<line x1="286.30" y1="59.85" x2="287.50" y2="59.85" stroke="#bdbdbd" stroke-width="0.4"/>
<text x="283.80" y="61.61" font-size="4.9" text-anchor="end" font-weight="normal" fill="#1a1a1a">60</text>
<line x1="286.30" y1="50.70" x2="287.50" y2="50.70" stroke="#bdbdbd" stroke-width="0.4"/>
<text x="283.80" y="52.46" font-size="4.9" text-anchor="end" font-weight="normal" fill="#1a1a1a">80</text>
<line x1="286.30" y1="41.55" x2="287.50" y2="41.55" stroke="#bdbdbd" stroke-width="0.4"/>
<text x="283.80" y="43.31" font-size="4.9" text-anchor="end" font-weight="normal" fill="#1a1a1a">100</text>
<line x1="286.30" y1="32.40" x2="287.50" y2="32.40" stroke="#bdbdbd" stroke-width="0.4"/>
<text x="283.80" y="34.16" font-size="4.9" text-anchor="end" font-weight="normal" fill="#1a1a1a">120</text>
<line x1="286.30" y1="23.25" x2="287.50" y2="23.25" stroke="#bdbdbd" stroke-width="0.4"/>
<text x="283.80" y="25.01" font-size="4.9" text-anchor="end" font-weight="normal" fill="#1a1a1a">140</text>
<line x1="286.30" y1="14.10" x2="287.50" y2="14.10" stroke="#bdbdbd" stroke-width="0.4"/>
<text x="283.80" y="15.86" font-size="4.9" text-anchor="end" font-weight="normal" fill="#1a1a1a">160</text>
<text x="271.40" y="48.00" font-size="4.9" text-anchor="middle" font-weight="normal" fill="#1a1a1a" transform="rotate(-90 271.40 48.00)">IFN-α (pg/mL)</text>
<rect x="289.40" y="80.89" width="5.50" height="6.41" fill="#fff" stroke="#000" stroke-width="0.6"/>
<rect x="295.20" y="81.72" width="6.10" height="5.58" fill="#000" stroke="none" stroke-width="0.5"/>
<line x1="298.25" y1="79.43" x2="298.25" y2="81.72" stroke="#000" stroke-width="0.5"/>
<line x1="296.85" y1="79.43" x2="299.65" y2="79.43" stroke="#000" stroke-width="0.5"/>
<text x="293.10" y="95.90" font-size="4.75" text-anchor="end" font-weight="normal" fill="#1a1a1a" transform="rotate(-45 293.10 95.90)">control</text>
<rect x="306.35" y="77.23" width="5.50" height="10.07" fill="#fff" stroke="#000" stroke-width="0.6"/>
<rect x="312.15" y="75.08" width="6.10" height="12.22" fill="#000" stroke="none" stroke-width="0.5"/>
<line x1="309.10" y1="76.32" x2="309.10" y2="78.15" stroke="#000" stroke-width="0.5"/>
<line x1="307.70" y1="76.32" x2="310.50" y2="76.32" stroke="#000" stroke-width="0.5"/>
<line x1="307.70" y1="78.15" x2="310.50" y2="78.15" stroke="#000" stroke-width="0.5"/>
<line x1="315.20" y1="71.65" x2="315.20" y2="75.08" stroke="#000" stroke-width="0.5"/>
<line x1="313.80" y1="71.65" x2="316.60" y2="71.65" stroke="#000" stroke-width="0.5"/>
<text x="310.05" y="95.90" font-size="4.75" text-anchor="end" font-weight="normal" fill="#1a1a1a" transform="rotate(-45 310.05 95.90)">LPS</text>
<rect x="323.30" y="68.08" width="5.50" height="19.21" fill="#fff" stroke="#000" stroke-width="0.6"/>
<rect x="329.10" y="81.72" width="6.10" height="5.58" fill="#000" stroke="none" stroke-width="0.5"/>
<line x1="326.05" y1="67.63" x2="326.05" y2="68.54" stroke="#000" stroke-width="0.5"/>
<line x1="324.65" y1="67.63" x2="327.45" y2="67.63" stroke="#000" stroke-width="0.5"/>
<line x1="324.65" y1="68.54" x2="327.45" y2="68.54" stroke="#000" stroke-width="0.5"/>
<text x="327.00" y="95.90" font-size="4.75" text-anchor="end" font-weight="normal" fill="#1a1a1a" transform="rotate(-45 327.00 95.90)">CpG</text>
<rect x="340.25" y="77.23" width="5.50" height="10.07" fill="#fff" stroke="#000" stroke-width="0.6"/>
<rect x="346.05" y="80.71" width="6.10" height="6.59" fill="#000" stroke="none" stroke-width="0.5"/>
<line x1="343.00" y1="74.26" x2="343.00" y2="80.21" stroke="#000" stroke-width="0.5"/>
<line x1="341.60" y1="74.26" x2="344.40" y2="74.26" stroke="#000" stroke-width="0.5"/>
<line x1="341.60" y1="80.21" x2="344.40" y2="80.21" stroke="#000" stroke-width="0.5"/>
<text x="343.95" y="95.90" font-size="4.75" text-anchor="end" font-weight="normal" fill="#1a1a1a" transform="rotate(-45 343.95 95.90)">LTA</text>
<rect x="357.20" y="65.20" width="5.50" height="22.10" fill="#fff" stroke="#000" stroke-width="0.6"/>
<rect x="363.00" y="28.01" width="6.10" height="59.29" fill="#000" stroke="none" stroke-width="0.5"/>
<line x1="359.95" y1="62.18" x2="359.95" y2="68.22" stroke="#000" stroke-width="0.5"/>
<line x1="358.55" y1="62.18" x2="361.35" y2="62.18" stroke="#000" stroke-width="0.5"/>
<line x1="358.55" y1="68.22" x2="361.35" y2="68.22" stroke="#000" stroke-width="0.5"/>
<line x1="366.05" y1="24.03" x2="366.05" y2="28.01" stroke="#000" stroke-width="0.5"/>
<line x1="364.65" y1="24.03" x2="367.45" y2="24.03" stroke="#000" stroke-width="0.5"/>
<text x="360.90" y="95.90" font-size="4.75" text-anchor="end" font-weight="normal" fill="#1a1a1a" transform="rotate(-45 360.90 95.90)">polyI:C</text>
<rect x="374.15" y="69.18" width="5.50" height="18.12" fill="#fff" stroke="#000" stroke-width="0.6"/>
<rect x="379.95" y="80.71" width="6.10" height="6.59" fill="#000" stroke="none" stroke-width="0.5"/>
<line x1="376.90" y1="67.81" x2="376.90" y2="70.56" stroke="#000" stroke-width="0.5"/>
<line x1="375.50" y1="67.81" x2="378.30" y2="67.81" stroke="#000" stroke-width="0.5"/>
<line x1="375.50" y1="70.56" x2="378.30" y2="70.56" stroke="#000" stroke-width="0.5"/>
<text x="377.85" y="95.90" font-size="4.75" text-anchor="end" font-weight="normal" fill="#1a1a1a" transform="rotate(-45 377.85 95.90)">HSP70</text>
<rect x="296.10" y="16.10" width="2.60" height="2.60" fill="#fff" stroke="#000" stroke-width="0.6"/>
<text x="300.40" y="19.00" font-size="4.6" text-anchor="start" font-weight="normal" fill="#1a1a1a">imDC</text>
<rect x="295.80" y="24.60" width="3.20" height="3.20" fill="#000" stroke="none" stroke-width="0.5"/>
<text x="300.40" y="27.80" font-size="4.6" text-anchor="start" font-weight="normal" fill="#1a1a1a">diff DC</text>
<text x="0" y="0" font-size="10.3" font-weight="bold" fill="#000" transform="translate(396.30 10.00) scale(1.13 1)">G</text>
<line x1="421.60" y1="16.30" x2="421.60" y2="85.90" stroke="#bdbdbd" stroke-width="0.5"/>
<line x1="421.60" y1="85.90" x2="520.00" y2="85.90" stroke="#bdbdbd" stroke-width="0.5"/>
<line x1="420.40" y1="85.90" x2="421.60" y2="85.90" stroke="#bdbdbd" stroke-width="0.4"/>
<text x="418.00" y="87.66" font-size="4.9" text-anchor="end" font-weight="normal" fill="#1a1a1a">0</text>
<line x1="420.40" y1="75.96" x2="421.60" y2="75.96" stroke="#bdbdbd" stroke-width="0.4"/>
<text x="418.00" y="77.72" font-size="4.9" text-anchor="end" font-weight="normal" fill="#1a1a1a">200</text>
<line x1="420.40" y1="66.01" x2="421.60" y2="66.01" stroke="#bdbdbd" stroke-width="0.4"/>
<text x="418.00" y="67.78" font-size="4.9" text-anchor="end" font-weight="normal" fill="#1a1a1a">400</text>
<line x1="420.40" y1="56.07" x2="421.60" y2="56.07" stroke="#bdbdbd" stroke-width="0.4"/>
<text x="418.00" y="57.84" font-size="4.9" text-anchor="end" font-weight="normal" fill="#1a1a1a">600</text>
<line x1="420.40" y1="46.13" x2="421.60" y2="46.13" stroke="#bdbdbd" stroke-width="0.4"/>
<text x="418.00" y="47.89" font-size="4.9" text-anchor="end" font-weight="normal" fill="#1a1a1a">800</text>
<line x1="420.40" y1="36.19" x2="421.60" y2="36.19" stroke="#bdbdbd" stroke-width="0.4"/>
<text x="418.00" y="37.95" font-size="4.9" text-anchor="end" font-weight="normal" fill="#1a1a1a">1000</text>
<line x1="420.40" y1="26.24" x2="421.60" y2="26.24" stroke="#bdbdbd" stroke-width="0.4"/>
<text x="418.00" y="28.01" font-size="4.9" text-anchor="end" font-weight="normal" fill="#1a1a1a">1200</text>
<line x1="420.40" y1="16.30" x2="421.60" y2="16.30" stroke="#bdbdbd" stroke-width="0.4"/>
<text x="418.00" y="18.06" font-size="4.9" text-anchor="end" font-weight="normal" fill="#1a1a1a">1400</text>
<text x="401.60" y="45.80" font-size="4.9" text-anchor="middle" font-weight="normal" fill="#1a1a1a" transform="rotate(-90 401.60 45.80)">IFN-β (pg/mL)</text>
<rect x="423.60" y="79.54" width="5.40" height="6.36" fill="#fff" stroke="#000" stroke-width="0.6"/>
<rect x="429.30" y="75.81" width="6.00" height="10.09" fill="#000" stroke="none" stroke-width="0.5"/>
<line x1="426.30" y1="79.14" x2="426.30" y2="79.93" stroke="#000" stroke-width="0.5"/>
<line x1="424.90" y1="79.14" x2="427.70" y2="79.14" stroke="#000" stroke-width="0.5"/>
<line x1="424.90" y1="79.93" x2="427.70" y2="79.93" stroke="#000" stroke-width="0.5"/>
<line x1="432.30" y1="75.31" x2="432.30" y2="75.81" stroke="#000" stroke-width="0.5"/>
<line x1="430.90" y1="75.31" x2="433.70" y2="75.31" stroke="#000" stroke-width="0.5"/>
<text x="427.20" y="94.50" font-size="4.75" text-anchor="end" font-weight="normal" fill="#1a1a1a" transform="rotate(-45 427.20 94.50)">control</text>
<rect x="439.75" y="75.11" width="5.40" height="10.79" fill="#fff" stroke="#000" stroke-width="0.6"/>
<rect x="445.45" y="63.33" width="6.00" height="22.57" fill="#000" stroke="none" stroke-width="0.5"/>
<line x1="442.45" y1="73.62" x2="442.45" y2="76.60" stroke="#000" stroke-width="0.5"/>
<line x1="441.05" y1="73.62" x2="443.85" y2="73.62" stroke="#000" stroke-width="0.5"/>
<line x1="441.05" y1="76.60" x2="443.85" y2="76.60" stroke="#000" stroke-width="0.5"/>
<line x1="448.45" y1="61.44" x2="448.45" y2="63.33" stroke="#000" stroke-width="0.5"/>
<line x1="447.05" y1="61.44" x2="449.85" y2="61.44" stroke="#000" stroke-width="0.5"/>
<text x="443.35" y="94.50" font-size="4.75" text-anchor="end" font-weight="normal" fill="#1a1a1a" transform="rotate(-45 443.35 94.50)">LPS</text>
<rect x="455.90" y="76.95" width="5.40" height="8.95" fill="#fff" stroke="#000" stroke-width="0.6"/>
<rect x="461.60" y="74.61" width="6.00" height="11.29" fill="#000" stroke="none" stroke-width="0.5"/>
<line x1="458.60" y1="76.55" x2="458.60" y2="77.35" stroke="#000" stroke-width="0.5"/>
<line x1="457.20" y1="76.55" x2="460.00" y2="76.55" stroke="#000" stroke-width="0.5"/>
<line x1="457.20" y1="77.35" x2="460.00" y2="77.35" stroke="#000" stroke-width="0.5"/>
<line x1="464.60" y1="74.12" x2="464.60" y2="74.61" stroke="#000" stroke-width="0.5"/>
<line x1="463.20" y1="74.12" x2="466.00" y2="74.12" stroke="#000" stroke-width="0.5"/>
<text x="459.50" y="94.50" font-size="4.75" text-anchor="end" font-weight="normal" fill="#1a1a1a" transform="rotate(-45 459.50 94.50)">CpG</text>
<rect x="472.05" y="77.20" width="5.40" height="8.70" fill="#fff" stroke="#000" stroke-width="0.6"/>
<rect x="477.75" y="75.46" width="6.00" height="10.44" fill="#000" stroke="none" stroke-width="0.5"/>
<line x1="474.75" y1="76.80" x2="474.75" y2="77.60" stroke="#000" stroke-width="0.5"/>
<line x1="473.35" y1="76.80" x2="476.15" y2="76.80" stroke="#000" stroke-width="0.5"/>
<line x1="473.35" y1="77.60" x2="476.15" y2="77.60" stroke="#000" stroke-width="0.5"/>
<line x1="480.75" y1="74.86" x2="480.75" y2="75.46" stroke="#000" stroke-width="0.5"/>
<line x1="479.35" y1="74.86" x2="482.15" y2="74.86" stroke="#000" stroke-width="0.5"/>
<text x="475.65" y="94.50" font-size="4.75" text-anchor="end" font-weight="normal" fill="#1a1a1a" transform="rotate(-45 475.65 94.50)">LTA</text>
<rect x="488.20" y="69.25" width="5.40" height="16.65" fill="#fff" stroke="#000" stroke-width="0.6"/>
<rect x="493.90" y="30.22" width="6.00" height="55.68" fill="#000" stroke="none" stroke-width="0.5"/>
<line x1="490.90" y1="67.01" x2="490.90" y2="71.48" stroke="#000" stroke-width="0.5"/>
<line x1="489.50" y1="67.01" x2="492.30" y2="67.01" stroke="#000" stroke-width="0.5"/>
<line x1="489.50" y1="71.48" x2="492.30" y2="71.48" stroke="#000" stroke-width="0.5"/>
<line x1="496.90" y1="27.24" x2="496.90" y2="30.22" stroke="#000" stroke-width="0.5"/>
<line x1="495.50" y1="27.24" x2="498.30" y2="27.24" stroke="#000" stroke-width="0.5"/>
<text x="491.80" y="94.50" font-size="4.75" text-anchor="end" font-weight="normal" fill="#1a1a1a" transform="rotate(-45 491.80 94.50)">polyI:C</text>
<rect x="504.35" y="76.16" width="5.40" height="9.74" fill="#fff" stroke="#000" stroke-width="0.6"/>
<rect x="510.05" y="73.37" width="6.00" height="12.53" fill="#000" stroke="none" stroke-width="0.5"/>
<line x1="507.05" y1="75.66" x2="507.05" y2="76.65" stroke="#000" stroke-width="0.5"/>
<line x1="505.65" y1="75.66" x2="508.45" y2="75.66" stroke="#000" stroke-width="0.5"/>
<line x1="505.65" y1="76.65" x2="508.45" y2="76.65" stroke="#000" stroke-width="0.5"/>
<line x1="513.05" y1="72.87" x2="513.05" y2="73.37" stroke="#000" stroke-width="0.5"/>
<line x1="511.65" y1="72.87" x2="514.45" y2="72.87" stroke="#000" stroke-width="0.5"/>
<text x="507.95" y="94.50" font-size="4.75" text-anchor="end" font-weight="normal" fill="#1a1a1a" transform="rotate(-45 507.95 94.50)">HSP70</text>
<rect x="426.50" y="15.60" width="2.60" height="2.60" fill="#fff" stroke="#000" stroke-width="0.6"/>
<text x="430.80" y="18.50" font-size="4.6" text-anchor="start" font-weight="normal" fill="#1a1a1a">imDC</text>
<rect x="426.20" y="23.80" width="3.20" height="3.20" fill="#000" stroke="none" stroke-width="0.5"/>
<text x="430.80" y="27.00" font-size="4.6" text-anchor="start" font-weight="normal" fill="#1a1a1a">diff DC</text>
<text x="0" y="0" font-size="10.3" font-weight="bold" fill="#000" transform="translate(267.20 123.30) scale(1.13 1)">H</text>
<line x1="335.30" y1="125.50" x2="335.30" y2="220.30" stroke="#bdbdbd" stroke-width="0.5"/>
<line x1="335.30" y1="220.30" x2="464.30" y2="220.30" stroke="#bdbdbd" stroke-width="0.5"/>
<line x1="335.30" y1="220.30" x2="335.30" y2="221.50" stroke="#bdbdbd" stroke-width="0.4"/>
<text x="335.30" y="230.60" font-size="4.9" text-anchor="middle" font-weight="normal" fill="#1a1a1a">0</text>
<line x1="361.10" y1="220.30" x2="361.10" y2="221.50" stroke="#bdbdbd" stroke-width="0.4"/>
<text x="361.10" y="230.60" font-size="4.9" text-anchor="middle" font-weight="normal" fill="#1a1a1a">1000</text>
<line x1="386.90" y1="220.30" x2="386.90" y2="221.50" stroke="#bdbdbd" stroke-width="0.4"/>
<text x="386.90" y="230.60" font-size="4.9" text-anchor="middle" font-weight="normal" fill="#1a1a1a">2000</text>
<line x1="412.70" y1="220.30" x2="412.70" y2="221.50" stroke="#bdbdbd" stroke-width="0.4"/>
<text x="412.70" y="230.60" font-size="4.9" text-anchor="middle" font-weight="normal" fill="#1a1a1a">3000</text>
<line x1="438.50" y1="220.30" x2="438.50" y2="221.50" stroke="#bdbdbd" stroke-width="0.4"/>
<text x="438.50" y="230.60" font-size="4.9" text-anchor="middle" font-weight="normal" fill="#1a1a1a">4000</text>
<line x1="464.30" y1="220.30" x2="464.30" y2="221.50" stroke="#bdbdbd" stroke-width="0.4"/>
<text x="464.30" y="230.60" font-size="4.9" text-anchor="middle" font-weight="normal" fill="#1a1a1a">5000</text>
<text x="400.60" y="241.40" font-size="4.9" text-anchor="middle" font-weight="normal" fill="#1a1a1a">IP-10 (pg/mL)</text>
<rect x="335.30" y="127.20" width="29.67" height="3.10" fill="#000" stroke="none" stroke-width="0.5"/>
<rect x="335.60" y="130.60" width="13.85" height="3.00" fill="#fff" stroke="#000" stroke-width="0.55"/>
<line x1="364.97" y1="128.75" x2="369.61" y2="128.75" stroke="#000" stroke-width="0.5"/>
<line x1="369.61" y1="127.65" x2="369.61" y2="129.85" stroke="#000" stroke-width="0.5"/>
<line x1="346.39" y1="132.10" x2="353.10" y2="132.10" stroke="#000" stroke-width="0.45"/>
<line x1="353.10" y1="131.10" x2="353.10" y2="133.10" stroke="#000" stroke-width="0.45"/>
<line x1="346.39" y1="131.10" x2="346.39" y2="133.10" stroke="#000" stroke-width="0.45"/>
<text x="372.61" y="131.35" font-size="5.6" text-anchor="start" font-weight="bold" fill="#1a1a1a">*</text>
<text x="332.60" y="131.90" font-size="4.9" text-anchor="end" font-weight="normal" fill="#1a1a1a">anti-IFNβ(12.5μg/mL)+LPS</text>
<rect x="335.30" y="136.74" width="67.08" height="3.10" fill="#000" stroke="none" stroke-width="0.5"/>
<rect x="335.60" y="140.14" width="14.88" height="3.00" fill="#fff" stroke="#000" stroke-width="0.55"/>
<line x1="402.38" y1="138.29" x2="406.25" y2="138.29" stroke="#000" stroke-width="0.5"/>
<line x1="406.25" y1="137.19" x2="406.25" y2="139.39" stroke="#000" stroke-width="0.5"/>
<line x1="346.91" y1="141.64" x2="354.65" y2="141.64" stroke="#000" stroke-width="0.45"/>
<line x1="354.65" y1="140.64" x2="354.65" y2="142.64" stroke="#000" stroke-width="0.45"/>
<line x1="346.91" y1="140.64" x2="346.91" y2="142.64" stroke="#000" stroke-width="0.45"/>
<text x="409.25" y="140.89" font-size="5.6" text-anchor="start" font-weight="bold" fill="#1a1a1a">*</text>
<text x="332.60" y="141.44" font-size="4.9" text-anchor="end" font-weight="normal" fill="#1a1a1a">anti-IFNβ(6.25μg/mL)+LPS</text>
<rect x="335.30" y="146.28" width="100.62" height="3.10" fill="#000" stroke="none" stroke-width="0.5"/>
<rect x="335.60" y="149.68" width="16.43" height="3.00" fill="#fff" stroke="#000" stroke-width="0.55"/>
<line x1="435.92" y1="147.83" x2="441.60" y2="147.83" stroke="#000" stroke-width="0.5"/>
<line x1="441.60" y1="146.73" x2="441.60" y2="148.93" stroke="#000" stroke-width="0.5"/>
<line x1="350.78" y1="151.18" x2="353.88" y2="151.18" stroke="#000" stroke-width="0.45"/>
<line x1="353.88" y1="150.18" x2="353.88" y2="152.18" stroke="#000" stroke-width="0.45"/>
<line x1="350.78" y1="150.18" x2="350.78" y2="152.18" stroke="#000" stroke-width="0.45"/>
<text x="332.60" y="150.98" font-size="4.9" text-anchor="end" font-weight="normal" fill="#1a1a1a">anti-IFNα(12.5μg/mL)+LPS</text>
<rect x="335.30" y="155.82" width="101.65" height="3.10" fill="#000" stroke="none" stroke-width="0.5"/>
<rect x="335.60" y="159.22" width="23.14" height="3.00" fill="#fff" stroke="#000" stroke-width="0.55"/>
<line x1="436.95" y1="157.37" x2="441.85" y2="157.37" stroke="#000" stroke-width="0.5"/>
<line x1="441.85" y1="156.27" x2="441.85" y2="158.47" stroke="#000" stroke-width="0.5"/>
<line x1="356.97" y1="160.72" x2="361.10" y2="160.72" stroke="#000" stroke-width="0.45"/>
<line x1="361.10" y1="159.72" x2="361.10" y2="161.72" stroke="#000" stroke-width="0.45"/>
<line x1="356.97" y1="159.72" x2="356.97" y2="161.72" stroke="#000" stroke-width="0.45"/>
<text x="332.60" y="160.52" font-size="4.9" text-anchor="end" font-weight="normal" fill="#1a1a1a">anti-IFNα(6.25μg/mL)+LPS</text>
<rect x="335.30" y="165.36" width="105.26" height="3.10" fill="#000" stroke="none" stroke-width="0.5"/>
<rect x="335.60" y="168.76" width="24.17" height="3.00" fill="#fff" stroke="#000" stroke-width="0.55"/>
<line x1="440.56" y1="166.91" x2="442.63" y2="166.91" stroke="#000" stroke-width="0.5"/>
<line x1="442.63" y1="165.81" x2="442.63" y2="168.01" stroke="#000" stroke-width="0.5"/>
<line x1="358.52" y1="170.26" x2="361.62" y2="170.26" stroke="#000" stroke-width="0.45"/>
<line x1="361.62" y1="169.26" x2="361.62" y2="171.26" stroke="#000" stroke-width="0.45"/>
<line x1="358.52" y1="169.26" x2="358.52" y2="171.26" stroke="#000" stroke-width="0.45"/>
<text x="332.60" y="170.06" font-size="4.9" text-anchor="end" font-weight="normal" fill="#1a1a1a">isotype antibody+LPS</text>
<rect x="335.30" y="174.90" width="105.26" height="3.10" fill="#000" stroke="none" stroke-width="0.5"/>
<rect x="335.60" y="178.30" width="24.17" height="3.00" fill="#fff" stroke="#000" stroke-width="0.55"/>
<line x1="440.56" y1="176.45" x2="442.63" y2="176.45" stroke="#000" stroke-width="0.5"/>
<line x1="442.63" y1="175.35" x2="442.63" y2="177.55" stroke="#000" stroke-width="0.5"/>
<line x1="358.52" y1="179.80" x2="361.62" y2="179.80" stroke="#000" stroke-width="0.45"/>
<line x1="361.62" y1="178.80" x2="361.62" y2="180.80" stroke="#000" stroke-width="0.45"/>
<line x1="358.52" y1="178.80" x2="358.52" y2="180.80" stroke="#000" stroke-width="0.45"/>
<text x="332.60" y="179.60" font-size="4.9" text-anchor="end" font-weight="normal" fill="#1a1a1a">LPS</text>
<rect x="335.30" y="184.44" width="12.13" height="3.10" fill="#000" stroke="none" stroke-width="0.5"/>
<rect x="335.60" y="187.84" width="0.43" height="3.00" fill="#fff" stroke="#000" stroke-width="0.55"/>
<line x1="347.43" y1="185.99" x2="349.49" y2="185.99" stroke="#000" stroke-width="0.5"/>
<line x1="349.49" y1="184.89" x2="349.49" y2="187.09" stroke="#000" stroke-width="0.5"/>
<text x="332.60" y="189.14" font-size="4.9" text-anchor="end" font-weight="normal" fill="#1a1a1a">anti-IFNβ(12.5μg/mL)</text>
<rect x="335.30" y="193.98" width="16.00" height="3.10" fill="#000" stroke="none" stroke-width="0.5"/>
<rect x="335.60" y="197.38" width="0.43" height="3.00" fill="#fff" stroke="#000" stroke-width="0.55"/>
<line x1="351.30" y1="195.53" x2="354.39" y2="195.53" stroke="#000" stroke-width="0.5"/>
<line x1="354.39" y1="194.43" x2="354.39" y2="196.63" stroke="#000" stroke-width="0.5"/>
<text x="332.60" y="198.68" font-size="4.9" text-anchor="end" font-weight="normal" fill="#1a1a1a">anti-IFNα(12.5μg/mL)</text>
<rect x="335.30" y="203.52" width="16.25" height="3.10" fill="#000" stroke="none" stroke-width="0.5"/>
<rect x="335.60" y="206.92" width="0.40" height="3.00" fill="#fff" stroke="#000" stroke-width="0.55"/>
<line x1="351.55" y1="205.07" x2="353.62" y2="205.07" stroke="#000" stroke-width="0.5"/>
<line x1="353.62" y1="203.97" x2="353.62" y2="206.17" stroke="#000" stroke-width="0.5"/>
<text x="332.60" y="208.22" font-size="4.9" text-anchor="end" font-weight="normal" fill="#1a1a1a">isotype antibody</text>
<rect x="335.30" y="213.06" width="16.25" height="3.10" fill="#000" stroke="none" stroke-width="0.5"/>
<rect x="335.60" y="216.46" width="0.40" height="3.00" fill="#fff" stroke="#000" stroke-width="0.55"/>
<line x1="351.55" y1="214.61" x2="353.62" y2="214.61" stroke="#000" stroke-width="0.5"/>
<line x1="353.62" y1="213.51" x2="353.62" y2="215.71" stroke="#000" stroke-width="0.5"/>
<text x="332.60" y="217.76" font-size="4.9" text-anchor="end" font-weight="normal" fill="#1a1a1a">control</text>
<rect x="444.00" y="203.30" width="3.20" height="3.30" fill="#000" stroke="none" stroke-width="0.5"/>
<text x="448.80" y="206.50" font-size="4.6" text-anchor="start" font-weight="normal" fill="#1a1a1a">diff DC</text>
<rect x="444.30" y="212.10" width="2.70" height="2.80" fill="#fff" stroke="#000" stroke-width="0.6"/>
<text x="448.80" y="215.00" font-size="4.6" text-anchor="start" font-weight="normal" fill="#1a1a1a">imDC</text>
<g stroke="#7a7a7a" stroke-width="0.6" fill="none">
<polyline points="378,127.7 450,127.7 450,176.3 446.4,176.3"/>
<polyline points="413,136.9 446.4,136.9 446.4,176.3"/>
</g>
<text x="0" y="0" font-size="10.3" font-weight="bold" fill="#000" transform="translate(266.60 253.60) scale(1.13 1)">I</text>
<line x1="335.90" y1="256.00" x2="335.90" y2="355.70" stroke="#bdbdbd" stroke-width="0.5"/>
<line x1="335.90" y1="355.70" x2="466.40" y2="355.70" stroke="#bdbdbd" stroke-width="0.5"/>
<line x1="335.90" y1="355.70" x2="335.90" y2="356.90" stroke="#bdbdbd" stroke-width="0.4"/>
<text x="335.90" y="366.00" font-size="4.9" text-anchor="middle" font-weight="normal" fill="#1a1a1a">0</text>
<line x1="362.00" y1="355.70" x2="362.00" y2="356.90" stroke="#bdbdbd" stroke-width="0.4"/>
<text x="362.00" y="366.00" font-size="4.9" text-anchor="middle" font-weight="normal" fill="#1a1a1a">1000</text>
<line x1="388.10" y1="355.70" x2="388.10" y2="356.90" stroke="#bdbdbd" stroke-width="0.4"/>
<text x="388.10" y="366.00" font-size="4.9" text-anchor="middle" font-weight="normal" fill="#1a1a1a">2000</text>
<line x1="414.20" y1="355.70" x2="414.20" y2="356.90" stroke="#bdbdbd" stroke-width="0.4"/>
<text x="414.20" y="366.00" font-size="4.9" text-anchor="middle" font-weight="normal" fill="#1a1a1a">3000</text>
<line x1="440.30" y1="355.70" x2="440.30" y2="356.90" stroke="#bdbdbd" stroke-width="0.4"/>
<text x="440.30" y="366.00" font-size="4.9" text-anchor="middle" font-weight="normal" fill="#1a1a1a">4000</text>
<line x1="466.40" y1="355.70" x2="466.40" y2="356.90" stroke="#bdbdbd" stroke-width="0.4"/>
<text x="466.40" y="366.00" font-size="4.9" text-anchor="middle" font-weight="normal" fill="#1a1a1a">5000</text>
<text x="397.60" y="370.30" font-size="4.9" text-anchor="middle" font-weight="normal" fill="#1a1a1a">IP-10 (pg/mL)</text>
<rect x="335.90" y="259.00" width="57.42" height="2.80" fill="#000" stroke="none" stroke-width="0.5"/>
<rect x="336.20" y="262.10" width="48.21" height="2.90" fill="#fff" stroke="#000" stroke-width="0.55"/>
<line x1="393.32" y1="260.40" x2="395.41" y2="260.40" stroke="#000" stroke-width="0.5"/>
<line x1="395.41" y1="259.30" x2="395.41" y2="261.50" stroke="#000" stroke-width="0.5"/>
<line x1="383.14" y1="263.55" x2="386.27" y2="263.55" stroke="#000" stroke-width="0.45"/>
<line x1="386.27" y1="262.55" x2="386.27" y2="264.55" stroke="#000" stroke-width="0.45"/>
<line x1="383.14" y1="262.55" x2="383.14" y2="264.55" stroke="#000" stroke-width="0.45"/>
<text x="398.01" y="263.00" font-size="5.6" text-anchor="start" font-weight="bold" fill="#1a1a1a">*</text>
<text x="332.20" y="263.40" font-size="4.9" text-anchor="end" font-weight="normal" fill="#1a1a1a">anti-IFNβ(12.5μg/mL)+poly I:C</text>
<rect x="335.90" y="268.90" width="68.12" height="2.80" fill="#000" stroke="none" stroke-width="0.5"/>
<rect x="336.20" y="272.00" width="53.17" height="2.90" fill="#fff" stroke="#000" stroke-width="0.55"/>
<line x1="404.02" y1="270.30" x2="406.37" y2="270.30" stroke="#000" stroke-width="0.5"/>
<line x1="406.37" y1="269.20" x2="406.37" y2="271.40" stroke="#000" stroke-width="0.5"/>
<line x1="388.10" y1="273.45" x2="391.23" y2="273.45" stroke="#000" stroke-width="0.45"/>
<line x1="391.23" y1="272.45" x2="391.23" y2="274.45" stroke="#000" stroke-width="0.45"/>
<line x1="388.10" y1="272.45" x2="388.10" y2="274.45" stroke="#000" stroke-width="0.45"/>
<text x="408.97" y="272.90" font-size="5.6" text-anchor="start" font-weight="bold" fill="#1a1a1a">*</text>
<text x="332.20" y="273.30" font-size="4.9" text-anchor="end" font-weight="normal" fill="#1a1a1a">anti-IFNβ(6.25μg/mL)+poly I:C</text>
<rect x="335.90" y="278.80" width="62.64" height="2.80" fill="#000" stroke="none" stroke-width="0.5"/>
<rect x="336.20" y="281.90" width="53.17" height="2.90" fill="#fff" stroke="#000" stroke-width="0.55"/>
<line x1="398.54" y1="280.20" x2="401.15" y2="280.20" stroke="#000" stroke-width="0.5"/>
<line x1="401.15" y1="279.10" x2="401.15" y2="281.30" stroke="#000" stroke-width="0.5"/>
<line x1="388.36" y1="283.35" x2="390.97" y2="283.35" stroke="#000" stroke-width="0.45"/>
<line x1="390.97" y1="282.35" x2="390.97" y2="284.35" stroke="#000" stroke-width="0.45"/>
<line x1="388.36" y1="282.35" x2="388.36" y2="284.35" stroke="#000" stroke-width="0.45"/>
<text x="403.75" y="282.80" font-size="5.6" text-anchor="start" font-weight="bold" fill="#1a1a1a">*</text>
<text x="332.20" y="283.20" font-size="4.9" text-anchor="end" font-weight="normal" fill="#1a1a1a">anti-IFNα(12.5μg/mL)+poly I:C</text>
<rect x="335.90" y="288.70" width="76.21" height="2.80" fill="#000" stroke="none" stroke-width="0.5"/>
<rect x="336.20" y="291.80" width="67.78" height="2.90" fill="#fff" stroke="#000" stroke-width="0.55"/>
<line x1="412.11" y1="290.10" x2="413.94" y2="290.10" stroke="#000" stroke-width="0.5"/>
<line x1="413.94" y1="289.00" x2="413.94" y2="291.20" stroke="#000" stroke-width="0.5"/>
<line x1="401.67" y1="293.25" x2="406.89" y2="293.25" stroke="#000" stroke-width="0.45"/>
<line x1="406.89" y1="292.25" x2="406.89" y2="294.25" stroke="#000" stroke-width="0.45"/>
<line x1="401.67" y1="292.25" x2="401.67" y2="294.25" stroke="#000" stroke-width="0.45"/>
<text x="416.54" y="292.70" font-size="5.6" text-anchor="start" font-weight="bold" fill="#1a1a1a">*</text>
<text x="332.20" y="293.10" font-size="4.9" text-anchor="end" font-weight="normal" fill="#1a1a1a">anti-IFNα(6.25μg/mL)+poly I:C</text>
<rect x="335.90" y="298.60" width="105.18" height="2.80" fill="#000" stroke="none" stroke-width="0.5"/>
<rect x="336.20" y="301.70" width="75.09" height="2.90" fill="#fff" stroke="#000" stroke-width="0.55"/>
<line x1="441.08" y1="300.00" x2="441.87" y2="300.00" stroke="#000" stroke-width="0.5"/>
<line x1="441.87" y1="298.90" x2="441.87" y2="301.10" stroke="#000" stroke-width="0.5"/>
<line x1="410.81" y1="303.15" x2="412.37" y2="303.15" stroke="#000" stroke-width="0.45"/>
<line x1="412.37" y1="302.15" x2="412.37" y2="304.15" stroke="#000" stroke-width="0.45"/>
<line x1="410.81" y1="302.15" x2="410.81" y2="304.15" stroke="#000" stroke-width="0.45"/>
<text x="332.20" y="303.00" font-size="4.9" text-anchor="end" font-weight="normal" fill="#1a1a1a">isotype antibody+poly I:C</text>
<rect x="335.90" y="308.50" width="105.18" height="2.80" fill="#000" stroke="none" stroke-width="0.5"/>
<rect x="336.20" y="311.60" width="75.87" height="2.90" fill="#fff" stroke="#000" stroke-width="0.55"/>
<line x1="441.08" y1="309.90" x2="441.87" y2="309.90" stroke="#000" stroke-width="0.5"/>
<line x1="441.87" y1="308.80" x2="441.87" y2="311.00" stroke="#000" stroke-width="0.5"/>
<line x1="411.33" y1="313.05" x2="413.42" y2="313.05" stroke="#000" stroke-width="0.45"/>
<line x1="413.42" y1="312.05" x2="413.42" y2="314.05" stroke="#000" stroke-width="0.45"/>
<line x1="411.33" y1="312.05" x2="411.33" y2="314.05" stroke="#000" stroke-width="0.45"/>
<text x="332.20" y="312.90" font-size="4.9" text-anchor="end" font-weight="normal" fill="#1a1a1a">poly I:C</text>
<rect x="335.90" y="318.40" width="8.87" height="2.80" fill="#000" stroke="none" stroke-width="0.5"/>
<rect x="336.20" y="321.50" width="0.44" height="2.90" fill="#fff" stroke="#000" stroke-width="0.55"/>
<line x1="344.77" y1="319.80" x2="346.60" y2="319.80" stroke="#000" stroke-width="0.5"/>
<line x1="346.60" y1="318.70" x2="346.60" y2="320.90" stroke="#000" stroke-width="0.5"/>
<text x="332.20" y="322.80" font-size="4.9" text-anchor="end" font-weight="normal" fill="#1a1a1a">anti-IFNβ(12.5μg/mL)</text>
<rect x="335.90" y="328.30" width="15.40" height="2.80" fill="#000" stroke="none" stroke-width="0.5"/>
<rect x="336.20" y="331.40" width="0.44" height="2.90" fill="#fff" stroke="#000" stroke-width="0.55"/>
<text x="332.20" y="332.70" font-size="4.9" text-anchor="end" font-weight="normal" fill="#1a1a1a">anti-IFNα(12.5μg/mL)</text>
<rect x="335.90" y="338.20" width="16.70" height="2.80" fill="#000" stroke="none" stroke-width="0.5"/>
<rect x="336.20" y="341.30" width="0.44" height="2.90" fill="#fff" stroke="#000" stroke-width="0.55"/>
<text x="332.20" y="342.60" font-size="4.9" text-anchor="end" font-weight="normal" fill="#1a1a1a">isotype antibody</text>
<rect x="335.90" y="348.10" width="16.70" height="2.80" fill="#000" stroke="none" stroke-width="0.5"/>
<rect x="336.20" y="351.20" width="0.44" height="2.90" fill="#fff" stroke="#000" stroke-width="0.55"/>
<text x="332.20" y="352.50" font-size="4.9" text-anchor="end" font-weight="normal" fill="#1a1a1a">control</text>
<rect x="443.00" y="338.20" width="3.20" height="3.30" fill="#000" stroke="none" stroke-width="0.5"/>
<text x="447.80" y="341.40" font-size="4.6" text-anchor="start" font-weight="normal" fill="#1a1a1a">diff DC</text>
<rect x="443.30" y="346.90" width="2.70" height="2.80" fill="#fff" stroke="#000" stroke-width="0.6"/>
<text x="447.80" y="349.80" font-size="4.6" text-anchor="start" font-weight="normal" fill="#1a1a1a">imDC</text>
<g stroke="#7a7a7a" stroke-width="0.6" fill="none">
<polyline points="414,262.6 455,262.6 455,310.2 446.2,310.2"/>
<polyline points="416.6,282.8 449.7,282.8 449.7,310.2"/>
<line x1="408.7" y1="257.8" x2="417.1" y2="267.4"/>
<line x1="411.9" y1="277.9" x2="421.8" y2="288.7"/>
</g>
</g>
</svg></body></html>
